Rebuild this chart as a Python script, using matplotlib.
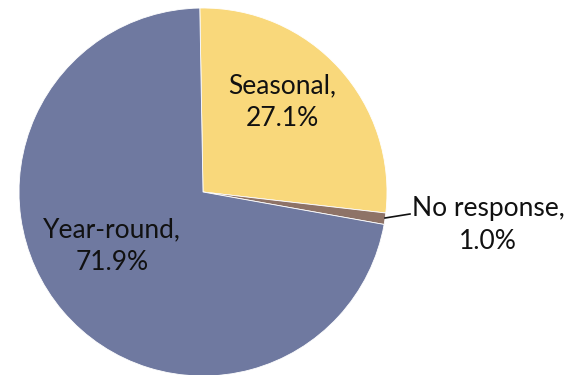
import matplotlib
matplotlib.use("Agg")
import matplotlib.pyplot as plt

categories = ["Seasonal", "No response", "Year-round"]
shares = [27.1, 1.0, 71.9]
colors = ["#F9D87B", "#8E7367", "#6F79A0"]

fig = plt.figure(figsize=(5.75, 3.75), dpi=100)
ax = fig.add_axes([0, 0, 1, 1])

cx, cy, r = 203, 183, 184
wedges, _ = ax.pie(shares, colors=colors, startangle=91, counterclock=False,
                   center=(cx, cy), radius=r, frame=True,
                   wedgeprops=dict(edgecolor="white", linewidth=0.6))
ax.set_xlim(0, 575)
ax.set_ylim(0, 375)
ax.set_aspect("equal")
ax.axis("off")

font = dict(family="Lato", fontsize=19, color="#111111",
            ha="center", va="center", linespacing=1.4)
labels = [f"{c},\n{v:.1f}%" for c, v in zip(categories, shares)]
ax.text(282, 273, labels[0], **font)
ax.text(112, 129, labels[2], **font)
ax.text(488, 150, labels[1], **font)
ax.plot([385, 410], [157, 161], color="#111111", linewidth=1.2)

fig.savefig("out.png", dpi=100)
